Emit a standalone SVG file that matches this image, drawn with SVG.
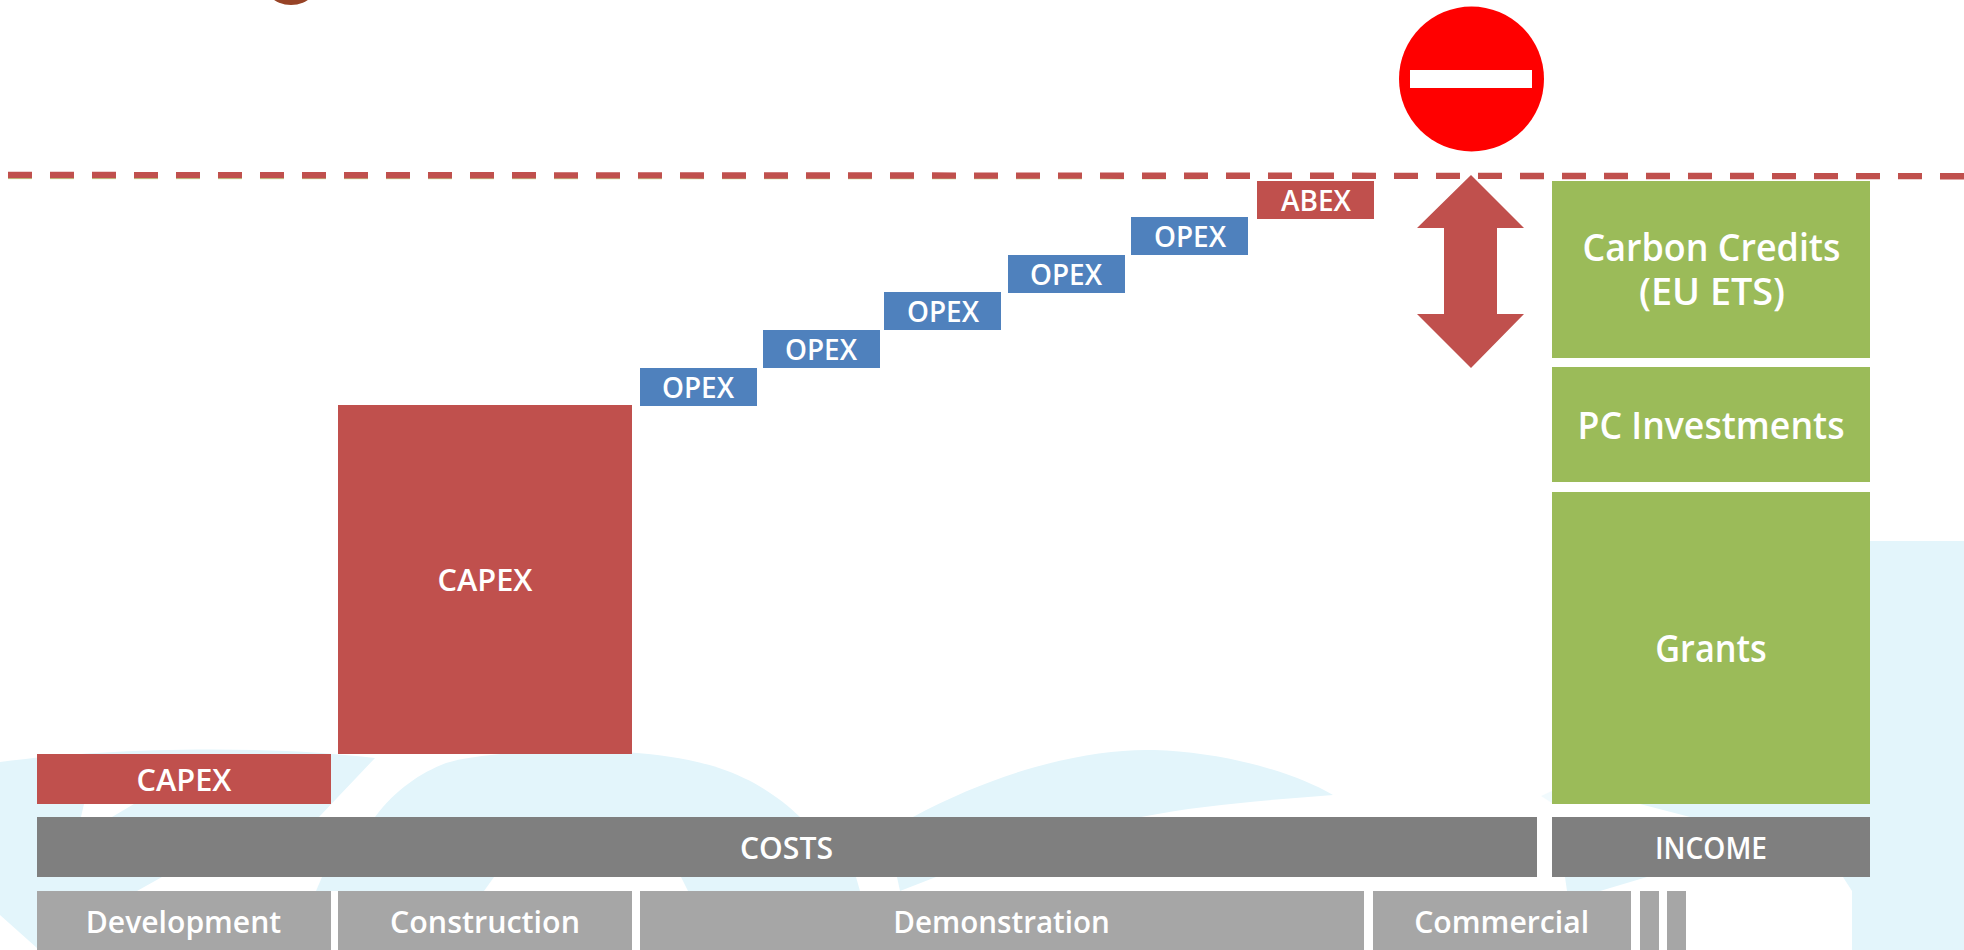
<svg xmlns="http://www.w3.org/2000/svg" width="1964" height="950" viewBox="0 0 1964 950">
<style>
.t{font-family:"Open Sans","Noto Sans","Liberation Sans",sans-serif;font-weight:600;fill:#fff;text-anchor:middle}
.s{font-size:29.5px}.m{font-size:31.5px}.l{font-size:38px}
.red{fill:#c0504d}.blue{fill:#4f81bd}.green{fill:#9bbb59}.dark{fill:#7f7f7f}.grey{fill:#a6a6a6}.wm{fill:#e3f5fb}
</style>
<rect width="1964" height="950" fill="#fff"/>
<g id="watermark">
<path class="wm" d="M0 762C110 747 270 745 375 758L319 817L162 877L137 891L37 948L0 915Z"/>
<polygon fill="#fff" points="84,804 134,804 112,817 81,817"/>
<path class="wm" d="M375 817C395 790 420 773 446 763C480 752 560 749 625 752C665 755 695 760 719 768C755 780 780 798 800 817H375Z"/>
<polygon class="wm" points="322,877 494,877 484,891 316,891"/>
<polygon class="wm" points="681,877 856,877 860,891 688,891"/>
<polygon class="wm" points="897,877 936,877 900,891"/>
<path class="wm" d="M913 817C1000 770 1090 748 1154 750C1220 752 1290 770 1333 795C1270 800 1200 805 1141 817Z"/>
<path class="wm" d="M1870 541H1964V950H1852V891L1843 877L1855 817H1870Z"/>
<polygon class="wm" points="1640,804 1870,804 1870,817 1690,817"/>
<polygon class="wm" points="1565,877 1647,877 1600,891 1567,891"/>
<polygon class="wm" opacity=".5" points="1541,796 1552,791 1552,803"/>
</g>
<circle id="top-dot" cx="291" cy="-26" r="31" fill="#974326"/>
<g id="connectors">
<line x1="8" y1="178.6" x2="1200" y2="178.8" stroke="#b9cf7c" stroke-width="1" stroke-dasharray="24 18"/>
<line x1="8" y1="175" x2="1964" y2="176.2" stroke="#c0504d" stroke-width="6.4" stroke-dasharray="24 18"/>
<path id="gap-arrow" class="red" d="M1471 175L1524 228H1497V314H1524L1471 368L1417 314H1444V228H1417Z"/>
</g>
<g id="no-entry"><circle cx="1471.5" cy="79" r="72.5" fill="#f00"/><rect x="1410" y="70" width="122" height="18" fill="#fff"/></g>
<g id="capex-1"><rect class="red" x="37" y="754" width="294" height="50"/><text class="t m" x="184" y="791" textLength="95" lengthAdjust="spacingAndGlyphs">CAPEX</text></g>
<g id="capex-2"><rect class="red" x="338" y="405" width="294" height="349"/><text class="t m" x="485" y="591" textLength="95" lengthAdjust="spacingAndGlyphs">CAPEX</text></g>
<g id="opex-1"><rect class="blue" x="640" y="368" width="117" height="38"/><text class="t s" x="698" y="397.5" textLength="72" lengthAdjust="spacingAndGlyphs">OPEX</text></g>
<g id="opex-2"><rect class="blue" x="763" y="330" width="117" height="38"/><text class="t s" x="821" y="359.5" textLength="72" lengthAdjust="spacingAndGlyphs">OPEX</text></g>
<g id="opex-3"><rect class="blue" x="884" y="292" width="117" height="38"/><text class="t s" x="943" y="321.5" textLength="72" lengthAdjust="spacingAndGlyphs">OPEX</text></g>
<g id="opex-4"><rect class="blue" x="1008" y="255" width="117" height="38"/><text class="t s" x="1066" y="284.5" textLength="72" lengthAdjust="spacingAndGlyphs">OPEX</text></g>
<g id="opex-5"><rect class="blue" x="1131" y="217" width="117" height="38"/><text class="t s" x="1190" y="246.5" textLength="72" lengthAdjust="spacingAndGlyphs">OPEX</text></g>
<g id="abex"><rect class="red" x="1257" y="181" width="117" height="38"/><text class="t s" x="1316" y="211" textLength="70" lengthAdjust="spacingAndGlyphs">ABEX</text></g>
<g id="carbon"><rect class="green" x="1552" y="181" width="318" height="177"/><text class="t l" x="1711.5" y="261" textLength="258" lengthAdjust="spacingAndGlyphs">Carbon Credits</text><text class="t l" x="1712" y="305" textLength="146" lengthAdjust="spacingAndGlyphs">(EU ETS)</text></g>
<g id="pc"><rect class="green" x="1552" y="367" width="318" height="115"/><text class="t l" x="1711" y="439" textLength="267" lengthAdjust="spacingAndGlyphs">PC Investments</text></g>
<g id="grants"><rect class="green" x="1552" y="492" width="318" height="312"/><text class="t l" x="1711" y="662" textLength="111.5" lengthAdjust="spacingAndGlyphs">Grants</text></g>
<g id="costs"><rect class="dark" x="37" y="817" width="1500" height="60"/><text class="t m" x="786.5" y="859" textLength="93" lengthAdjust="spacingAndGlyphs">COSTS</text></g>
<g id="income"><rect class="dark" x="1552" y="817" width="318" height="60"/><text class="t m" x="1711" y="858.7" textLength="112" lengthAdjust="spacingAndGlyphs">INCOME</text></g>
<g id="development"><rect class="grey" x="37" y="891" width="294" height="59"/><text class="t m" x="183.5" y="932.7" textLength="195.5" lengthAdjust="spacingAndGlyphs">Development</text></g>
<g id="construction"><rect class="grey" x="338" y="891" width="294" height="59"/><text class="t m" x="485" y="932.7" textLength="190" lengthAdjust="spacingAndGlyphs">Construction</text></g>
<g id="demonstration"><rect class="grey" x="640" y="891" width="724" height="59"/><text class="t m" x="1001.6" y="932.7" textLength="216.5" lengthAdjust="spacingAndGlyphs">Demonstration</text></g>
<g id="commercial"><rect class="grey" x="1373" y="891" width="258" height="59"/><text class="t m" x="1501.7" y="932.7" textLength="175" lengthAdjust="spacingAndGlyphs">Commercial</text></g>
<g id="phase-5"><rect class="grey" x="1640" y="891" width="19" height="59"/></g>
<g id="phase-6"><rect class="grey" x="1667" y="891" width="19" height="59"/></g>
</svg>
